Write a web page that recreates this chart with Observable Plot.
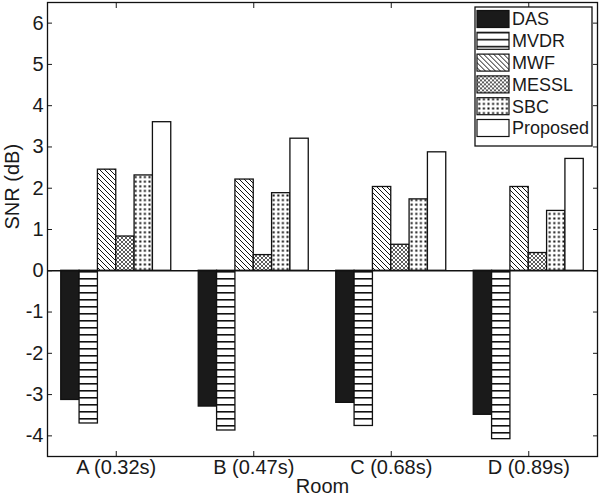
<!DOCTYPE html>
<html>
<head>
<meta charset="utf-8">
<script src="https://cdn.jsdelivr.net/npm/d3@7"></script>
<script src="https://cdn.jsdelivr.net/npm/@observablehq/plot@0.6"></script>
<style>
  html, body { margin: 0; padding: 0; background: #fff; }
  #chart svg { display: block; }
</style>
</head>
<body>
<div id="chart"></div>
<script>
const rooms = ["A (0.32s)", "B (0.47s)", "C (0.68s)", "D (0.89s)"];
const methods = ["DAS", "MVDR", "MWF", "MESSL", "SBC", "Proposed"];
const das      = [-3.13, -3.29, -3.20, -3.49];
const mvdr     = [-3.70, -3.87, -3.76, -4.08];
const mwf      = [ 2.45,  2.21,  2.03,  2.03];
const messl    = [ 0.83,  0.38,  0.63,  0.43];
const sbc      = [ 2.31,  1.88,  1.73,  1.45];
const proposed = [ 3.60,  3.20,  2.87,  2.71];
const yTicks = [-4, -3, -2, -1, 0, 1, 2, 3, 4, 5, 6];
const roomTicks = [1, 2, 3, 4];

const series = [das, mvdr, mwf, messl, sbc, proposed];
const fills = ["#1a1a1a", "url(#p-mvdr)", "url(#p-mwf)", "url(#p-messl)", "url(#p-sbc)", "#ffffff"];

// MATLAB grouped bar geometry: group width 0.8, bars touching
const groupWidth = 0.8, nb = methods.length, bw = groupWidth / nb;
const rows = [];
methods.forEach((m, j) => {
  series[j].forEach((v, i) => {
    const x1 = (i + 1) - groupWidth / 2 + j * bw;
    rows.push({method: m, room: rooms[i], x1, x2: x1 + bw, value: v});
  });
});

const font = "'Liberation Sans', Arial, Helvetica, sans-serif";

const barMarks = methods.map((m, j) =>
  Plot.rectY(rows.filter(d => d.method === m), {
    x1: "x1", x2: "x2", y1: 0, y2: "value",
    fill: fills[j], stroke: "#111", strokeWidth: 1.3
  })
);

const svg = Plot.plot({
  width: 600,
  height: 499,
  marginLeft: 47,
  marginRight: 3,
  marginTop: 2,
  marginBottom: 43,
  style: {fontFamily: font, fontSize: "20px", color: "#1a1a1a", background: "#fff"},
  x: {type: "linear", domain: [0.5, 4.5]},
  y: {type: "linear", domain: [-4.5, 6.5]},
  marks: [
    ...barMarks,
    Plot.ruleY([0], {stroke: "#111", strokeWidth: 1.3}),
    Plot.axisY({anchor: "left", ticks: yTicks, tickSize: -5, tickPadding: 9, fontSize: 20, label: null, tickFormat: d => String(d).replace("−", "-")}),
    Plot.axisY({anchor: "right", ticks: yTicks, tickSize: -5, tickFormat: () => "", label: null}),
    Plot.axisX({anchor: "bottom", ticks: roomTicks, tickSize: -5, tickPadding: 8, fontSize: 20, label: null, tickFormat: d => rooms[d - 1]}),
    Plot.axisX({anchor: "top", ticks: roomTicks, tickSize: -5, tickFormat: () => "", label: null}),
    Plot.frame({stroke: "#111", strokeWidth: 1.3}),
    Plot.text(["SNR (dB)"], {frameAnchor: "left", dx: -35, rotate: -90, fontSize: 20, fill: "#1a1a1a"}),
    Plot.text(["Room"], {frameAnchor: "bottom", dy: 36, fontSize: 20, fill: "#1a1a1a"})
  ]
});

// patterns
const defs = d3.select(svg).insert("defs", ":first-child");
defs.append("pattern").attr("id", "p-mvdr").attr("patternUnits", "userSpaceOnUse")
  .attr("width", 8).attr("height", 7)
  .call(p => { p.append("rect").attr("width", 8).attr("height", 7).attr("fill", "#fff");
               p.append("rect").attr("y", 5).attr("width", 8).attr("height", 1.6).attr("fill", "#111"); });
defs.append("pattern").attr("id", "p-mwf").attr("patternUnits", "userSpaceOnUse")
  .attr("width", 5).attr("height", 5)
  .call(p => { p.append("rect").attr("width", 5).attr("height", 5).attr("fill", "#fff");
               p.append("path").attr("d", "M0,0L5,5M-1,4L1,6M4,-1L6,1").attr("stroke", "#111").attr("stroke-width", 1); });
defs.append("pattern").attr("id", "p-messl").attr("patternUnits", "userSpaceOnUse")
  .attr("width", 4).attr("height", 4)
  .call(p => { p.append("rect").attr("width", 4).attr("height", 4).attr("fill", "#fff");
               p.append("path").attr("d", "M0,0L4,4M4,0L0,4").attr("stroke", "#333").attr("stroke-width", 0.8); });
defs.append("pattern").attr("id", "p-sbc").attr("patternUnits", "userSpaceOnUse")
  .attr("width", 4.6).attr("height", 4.6)
  .call(p => { p.append("rect").attr("width", 4.6).attr("height", 4.6).attr("fill", "#fff");
               p.append("rect").attr("x", 1.3).attr("y", 1.3).attr("width", 2).attr("height", 2).attr("fill", "#111"); });

// legend (inside plot, top-right)
const lg = d3.select(svg).append("g").attr("transform", "translate(475,7)")
  .attr("text-anchor", "start");
lg.append("rect").attr("width", 117).attr("height", 139).attr("fill", "#fff").attr("stroke", "#111").attr("stroke-width", 1.3);
methods.forEach((m, j) => {
  const g = lg.append("g").attr("transform", `translate(2,${12 + j * 21.8})`);
  g.append("rect").attr("x", 0).attr("y", -8.5).attr("width", 32).attr("height", 17)
    .attr("fill", fills[j]).attr("stroke", "#111").attr("stroke-width", 1.2);
  g.append("text").attr("x", 35).attr("y", 0).attr("dy", "0.35em")
    .attr("text-anchor", "start")
    .attr("font-size", 18).attr("fill", "#1a1a1a").text(m);
});

document.getElementById("chart").appendChild(svg);
</script>
</body>
</html>
